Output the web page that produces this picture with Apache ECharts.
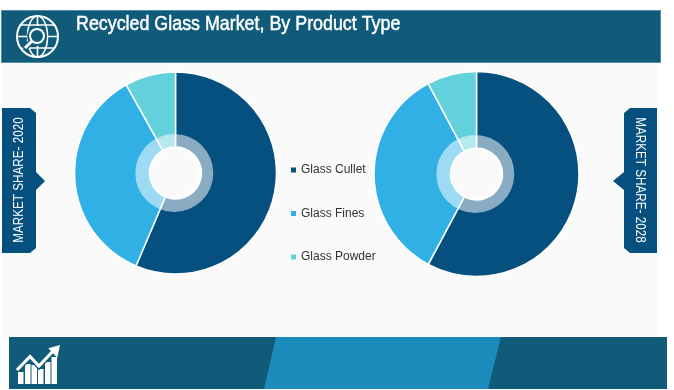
<!DOCTYPE html>
<html>
<head>
<meta charset="utf-8">
<title>Recycled Glass Market</title>
<script src="https://cdn.jsdelivr.net/npm/echarts@6/dist/echarts.min.js"></script>
<style>
  html, body { margin: 0; padding: 0; background: #fff; }
  #chart { width: 674px; height: 390px; }
</style>
</head>
<body>
<div id="chart"></div>
<script>
const categories = ['Glass Cullet', 'Glass Fines', 'Glass Powder'];
const share2020 = [56.4, 35.5, 8.1];
const share2028 = [57.8, 34.4, 7.8];
const sliceColors = ['#05507f', '#30b0e5', '#63d1dc'];

const BANNER = '#115b7a';
const TAG = '#05507f';

function toData(values) {
  return values.map((v, i) => ({
    name: categories[i],
    value: v,
    itemStyle: { color: sliceColors[i] }
  }));
}

// slices run in to the hole, the pale ring is a white veil laid over them
function donut(values, center, radius) {
  const base = { type: 'pie', silent: true, label: { show: false }, labelLine: { show: false } };
  return [
    Object.assign({}, base, {
      center: center,
      radius: [26, radius],
      data: toData(values),
      itemStyle: { borderColor: '#fff', borderWidth: 1.5 }
    }),
    Object.assign({}, base, {
      center: [center[0] - 1.2, center[1]], // ring sits a little left of the slices in the picture
      radius: [24, 39],
      data: [{ name: 'veil', value: 1, itemStyle: { color: 'rgba(255,255,255,0.53)' } }]
    })
  ];
}

function rect(x, y, width, height, fill) {
  return { type: 'rect', shape: { x, y, width, height }, style: { fill } };
}
function poly(points, fill) {
  return { type: 'polygon', shape: { points }, style: { fill } };
}
function line(points, width, stroke) {
  return { type: 'polyline', shape: { points }, style: { stroke: stroke || '#fff', lineWidth: width, fill: null } };
}
// no condensed face is installed, so the wide one is squeezed
function squeezed(str, x, y, size, squeeze, rotation, align, weight) {
  return {
    type: 'text', x, y, rotation: rotation || 0, scaleX: squeeze, scaleY: 1,
    style: {
      text: str, fill: '#fff', align: align || 'center', verticalAlign: 'middle',
      font: size + 'px "Liberation Sans"',
      stroke: weight ? '#fff' : null,
      lineWidth: weight || 0
    }
  };
}

const globeIcon = [
  { type: 'circle', shape: { cx: 37.5, cy: 36.5, r: 20.5 }, style: { stroke: '#fff', lineWidth: 2, fill: null } },
  { type: 'ellipse', shape: { cx: 37.5, cy: 36.5, rx: 10, ry: 20.5 }, style: { stroke: '#fff', lineWidth: 1.6, fill: null } },
  line([[37.5, 16], [37.5, 57]], 1.6),
  line([[21, 25], [54, 25]], 1.6),
  line([[17, 36.5], [58, 36.5]], 1.6),
  line([[21, 48], [54, 48]], 1.6),
  { type: 'circle', shape: { cx: 37, cy: 36, r: 10 }, style: { fill: BANNER } },
  line([[31, 42], [24, 49]], 6, BANNER),
  { type: 'circle', shape: { cx: 37, cy: 36, r: 7 }, style: { stroke: '#fff', lineWidth: 2, fill: BANNER } },
  line([[32, 41], [25, 48]], 3)
];

const trendIcon = [
  rect(18, 372, 5.5, 12, '#fff'),
  rect(25, 364, 5.5, 20, '#fff'),
  rect(31.5, 365, 5.5, 19, '#fff'),
  rect(38, 369, 5.5, 15, '#fff'),
  rect(45, 362, 5.5, 22, '#fff'),
  rect(51.5, 357, 5.5, 27, '#fff'),
  line([[17, 370], [30, 356.5], [39, 366], [54, 350]], 6, BANNER),
  line([[17, 370], [30, 356.5], [39, 366], [54, 350]], 3.2),
  poly([[48.3, 348.3], [60, 345], [57.3, 357.7]], '#fff')
];

const graphicEls = [
  rect(2, 63, 657, 275, '#fafafa'),
  { type: 'rect', shape: { x: 1.5, y: 10.5, width: 659, height: 52 }, style: { fill: BANNER, stroke: '#4f8ca8', lineWidth: 1 } },
  rect(9, 337, 658, 52, BANNER),
  poly([[276, 337], [501, 337], [488, 389], [264, 389]], '#1a8bbb'),
  poly([[2, 108], [30, 108], [36, 113], [36, 172], [45, 181], [36, 190], [36, 248], [30, 253], [2, 253]], TAG),
  poly([[657, 108], [630, 108], [624, 113], [624, 172], [613, 181], [624, 190], [624, 248], [630, 253], [657, 253]], TAG),
  squeezed('MARKET SHARE- 2020', 19, 180, 15, 0.78, Math.PI / 2),
  squeezed('MARKET SHARE- 2028', 640, 180, 15, 0.78, -Math.PI / 2),
  squeezed('Recycled Glass Market, By Product Type', 76, 24.5, 21, 0.85, 0, 'left', 0.5)
].concat(globeIcon, trendIcon);

const chart = echarts.init(document.getElementById('chart'));
chart.setOption({
  animation: false,
  legend: {
    data: categories,
    orient: 'vertical',
    left: 291,
    top: 164,
    padding: 0,
    icon: 'rect',
    itemWidth: 5,
    itemHeight: 5,
    itemGap: 31.5,
    selectedMode: false,
    itemStyle: { borderWidth: 0 },
    textStyle: { color: '#333', fontFamily: 'Liberation Sans', fontSize: 12 }
  },
  series: donut(share2020, [175.5, 173], 101).concat(donut(share2028, [476.5, 174], 102.5)),
  graphic: { elements: graphicEls }
});
</script>
</body>
</html>
